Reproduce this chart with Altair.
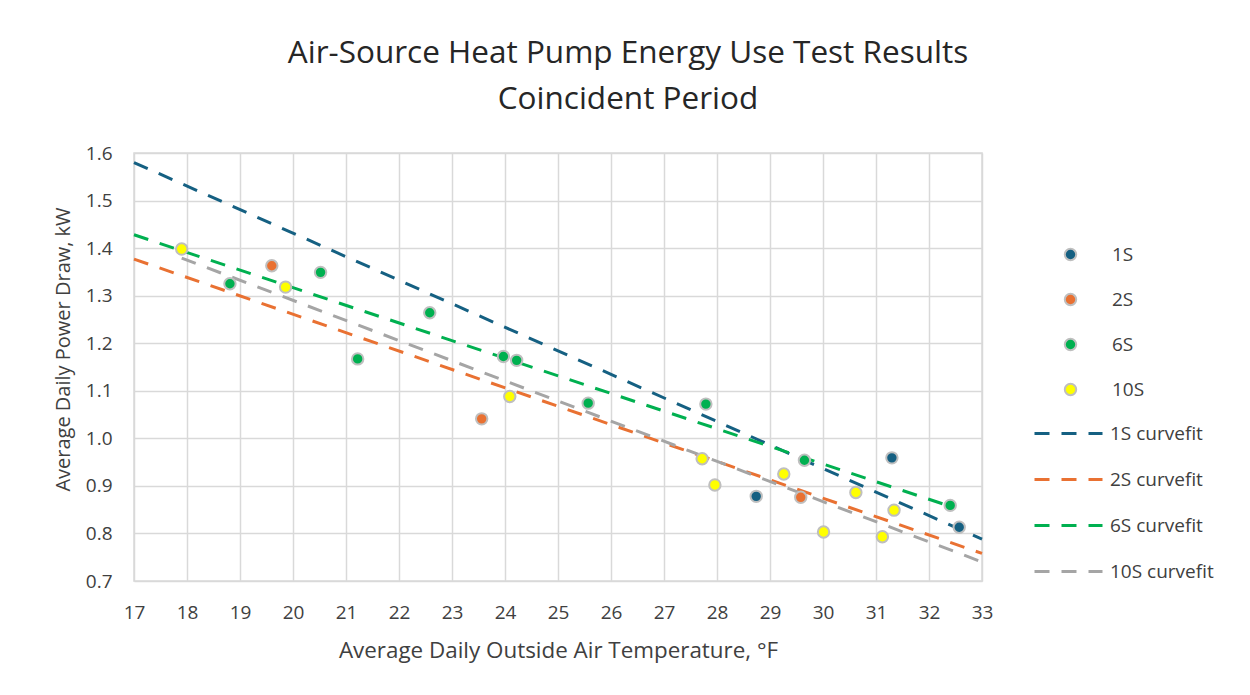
import altair as alt
import pandas as pd

s1_x = [28.74, 31.30, 32.57]
s1_y = [0.878, 0.959, 0.813]
s2_x = [19.60, 23.56, 29.58]
s2_y = [1.363, 1.041, 0.876]
s6_x = [18.81, 20.52, 21.22, 22.58, 23.97, 24.22, 25.57, 27.79, 29.65, 32.40]
s6_y = [1.325, 1.349, 1.167, 1.264, 1.172, 1.164, 1.074, 1.072, 0.954, 0.859]
s10_x = [17.90, 19.86, 24.09, 27.72, 27.96, 29.26, 30.01, 30.62, 31.12, 31.34]
s10_y = [1.398, 1.318, 1.088, 0.957, 0.902, 0.925, 0.803, 0.886, 0.793, 0.849]

series_names = ["1S", "2S", "6S", "10S"]
series_colors = ["#156082", "#E97132", "#00B050", "#FFFF00"]

fit_names = ["1S curvefit", "2S curvefit", "6S curvefit", "10S curvefit"]
fit_colors = ["#156082", "#E97132", "#00B050", "#A5A5A5"]
fit_x0 = [17.0, 17.0, 17.0, 17.9]
fit_y0 = [1.580, 1.377, 1.428, 1.379]
fit_x1 = [33.0, 33.0, 32.4, 33.0]
fit_y1 = [0.788, 0.758, 0.857, 0.740]

x_ticks = list(range(17, 34))
y_ticks = [0.7, 0.8, 0.9, 1.0, 1.1, 1.2, 1.3, 1.4, 1.5, 1.6]

FONT = "Open Sans"
TXT = "#404040"

rows = []
for name, xs, ys in zip(series_names, [s1_x, s2_x, s6_x, s10_x], [s1_y, s2_y, s6_y, s10_y]):
    for xv, yv in zip(xs, ys):
        rows.append({"series": name, "x": xv, "y": yv})
pts = pd.DataFrame(rows)
fits = pd.DataFrame({"fit": fit_names, "x0": fit_x0, "y0": fit_y0, "x1": fit_x1, "y1": fit_y1})

xscale = alt.Scale(domain=[17, 33], nice=False, zero=False)
yscale = alt.Scale(domain=[0.7, 1.6], nice=False, zero=False)

xaxis = alt.Axis(values=x_ticks, format="d", title="Average Daily Outside Air Temperature, °F",
                 titleFontSize=22.4, titlePadding=17, labelPadding=22, labelFlush=False)
yaxis = alt.Axis(values=y_ticks, format=".1f", title="Average Daily Power Draw, kW",
                 titleFontSize=20, titlePadding=12, labelPadding=22, labelFlush=False, titleY=196)

lines = alt.Chart(fits).mark_rule(strokeDash=[15, 12], strokeWidth=3).encode(
    x=alt.X("x0:Q", scale=xscale, axis=xaxis),
    y=alt.Y("y0:Q", scale=yscale, axis=yaxis),
    x2="x1:Q",
    y2="y1:Q",
    stroke=alt.Stroke("fit:N", scale=alt.Scale(domain=fit_names, range=fit_colors),
                      legend=alt.Legend(title=None, orient="none", legendX=899, legendY=245,
                                        symbolType="stroke", symbolSize=4624, symbolStrokeWidth=3,
                                        symbolDash=[15, 12], labelOffset=6, rowPadding=-2,
                                        labelFontSize=19, labelFont=FONT, labelColor=TXT, padding=0)),
)

points = alt.Chart(pts).mark_point(filled=True, size=130, stroke="#BFBFBF", strokeWidth=2, opacity=1).encode(
    x=alt.X("x:Q", scale=xscale, axis=xaxis),
    y=alt.Y("y:Q", scale=yscale, axis=yaxis),
    fill=alt.Fill("series:N", scale=alt.Scale(domain=series_names, range=series_colors),
                  legend=alt.Legend(title=None, orient="none", legendX=927, legendY=92,
                                    symbolType="circle", symbolSize=130, symbolStrokeColor="#BFBFBF",
                                    symbolStrokeWidth=2, symbolOpacity=1, labelOffset=32, rowPadding=24,
                                    labelFontSize=19, labelFont=FONT, labelColor=TXT, padding=0)),
)

chart = alt.layer(lines, points).properties(
    width=848, height=428,
    autosize=alt.AutoSizeParams(type="none"),
    padding={"left": 126, "top": 145, "right": 250, "bottom": 100},
    title=alt.TitleParams(["Air-Source Heat Pump Energy Use Test Results", "Coincident Period"],
                          fontSize=31.5, font=FONT, fontWeight="normal", color="#262626",
                          anchor="middle", dx=70, lineHeight=46, offset=29),
).configure_axis(
    grid=True, gridColor="#D9D9D9", gridWidth=1.5, ticks=False, domain=False,
    labelFont=FONT, labelFontSize=19, labelColor=TXT,
    titleFont=FONT, titleFontWeight="normal", titleColor=TXT,
).configure_view(stroke="#D9D9D9", strokeWidth=1.5)

chart.save("out.html", embed_options={"renderer": "svg", "actions": False})
